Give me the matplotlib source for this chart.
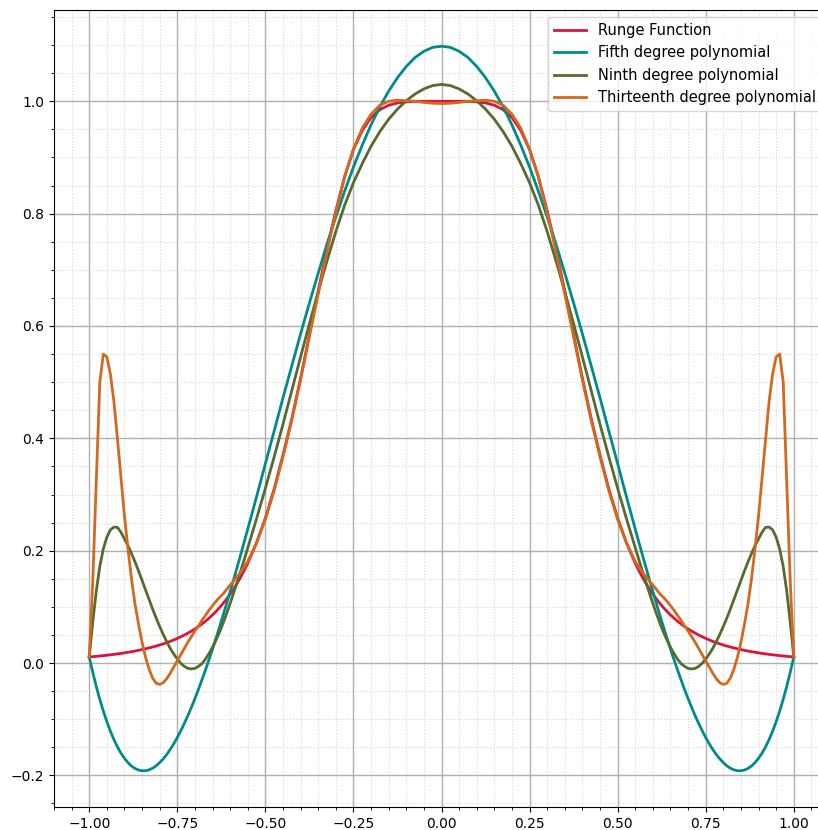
import numpy as np
import matplotlib
matplotlib.use("Agg")
import matplotlib.pyplot as plt
from matplotlib.ticker import MultipleLocator

# Sample positions on the right half of [-1, 1]; every curve is even, so the
# left half reuses the same values mirrored about x = 0.
x_half = [0.0, 0.025, 0.05, 0.075, 0.1, 0.125, 0.15, 0.175, 0.2, 0.225,
          0.25, 0.275, 0.3, 0.325, 0.35, 0.375, 0.4, 0.425, 0.45, 0.475,
          0.5, 0.525,
          0.55, 0.56, 0.57, 0.58, 0.59, 0.60, 0.61, 0.62, 0.63, 0.64,
          0.65, 0.66, 0.67, 0.68, 0.69, 0.70, 0.71, 0.72, 0.73, 0.74,
          0.75, 0.76, 0.77, 0.78, 0.79, 0.80, 0.81, 0.82, 0.83, 0.84,
          0.85, 0.86, 0.87, 0.88, 0.89, 0.90, 0.91, 0.92, 0.93, 0.94,
          0.95, 0.96, 0.97, 0.98, 0.99, 1.00]

runge_half = [1.000, 1.000, 1.000, 1.000, 0.999, 0.997, 0.993, 0.985, 0.971, 0.948,
              0.914, 0.866, 0.805, 0.737, 0.662, 0.585, 0.507, 0.435, 0.370, 0.310,
              0.258, 0.214,
              0.1776, 0.1649, 0.1530, 0.1421, 0.1320, 0.1226, 0.1140, 0.1061, 0.0987, 0.0919,
              0.0857, 0.0799, 0.0745, 0.0696, 0.0650, 0.0607, 0.0568, 0.0532, 0.0498, 0.0467,
              0.0438, 0.0411, 0.0386, 0.0363, 0.0341, 0.0321, 0.0302, 0.0285, 0.0269, 0.0253,
              0.0239, 0.0226, 0.0213, 0.0202, 0.0191, 0.0181, 0.0171, 0.0162, 0.0154, 0.0146,
              0.0139, 0.0132, 0.0125, 0.0119, 0.0113, 0.0108]

fifth_half = [1.098, 1.096, 1.089, 1.078, 1.062, 1.042, 1.018, 0.990, 0.958, 0.922,
              0.883, 0.840, 0.794, 0.746, 0.694, 0.641, 0.586, 0.529, 0.472, 0.413,
              0.355, 0.296,
              0.2383, 0.2155, 0.1930, 0.1706, 0.1487, 0.1270, 0.1057, 0.0848, 0.0643, 0.0443,
              0.0248, 0.0059, -0.0124, -0.0300, -0.0471, -0.0634, -0.0789, -0.0937, -0.1075, -0.1205,
              -0.1326, -0.1437, -0.1537, -0.1628, -0.1706, -0.1773, -0.1829, -0.1872, -0.1901, -0.1917,
              -0.1918, -0.1905, -0.1877, -0.1834, -0.1773, -0.1696, -0.1603, -0.1492, -0.1361, -0.1213,
              -0.1044, -0.0855, -0.0647, -0.0416, -0.0164, 0.0108]

ninth_half = [1.030, 1.028, 1.022, 1.013, 1.001, 0.986, 0.968, 0.946, 0.920, 0.889,
              0.855, 0.815, 0.768, 0.716, 0.661, 0.604, 0.545, 0.485, 0.425, 0.367,
              0.311, 0.257,
              0.205, 0.184, 0.164, 0.144, 0.125, 0.106, 0.088, 0.071, 0.055, 0.041,
              0.028, 0.017, 0.007, -0.001, -0.006, -0.0095, -0.0105, -0.0095, -0.006, -0.0005,
              0.007, 0.016, 0.026, 0.038, 0.051, 0.065, 0.080, 0.096, 0.113, 0.130,
              0.147, 0.164, 0.180, 0.195, 0.209, 0.221, 0.233, 0.2415, 0.242, 0.237,
              0.224, 0.203, 0.172, 0.128, 0.073, 0.0108]

thirteenth_half = [0.996, 0.9965, 0.998, 1.000, 1.001, 1.002, 1.000, 0.993, 0.977, 0.952,
                   0.915, 0.865, 0.802, 0.732, 0.657, 0.581, 0.504, 0.432, 0.367, 0.307,
                   0.256, 0.214,
                   0.181, 0.171, 0.162, 0.154, 0.146, 0.139, 0.131, 0.123, 0.117, 0.110,
                   0.102, 0.094, 0.085, 0.076, 0.066, 0.057, 0.047, 0.037, 0.026, 0.015,
                   0.004, -0.007, -0.018, -0.028, -0.035, -0.038, -0.036, -0.027, -0.011, 0.010,
                   0.037, 0.069, 0.105, 0.150, 0.203, 0.262, 0.330, 0.400, 0.466, 0.515,
                   0.545, 0.550, 0.500, 0.320, 0.145, 0.0108]

labels = ["Runge Function", "Fifth degree polynomial",
          "Ninth degree polynomial", "Thirteenth degree polynomial"]
colors = ["crimson", "darkcyan", "darkolivegreen", "chocolate"]


def full(half, sign=1.0):
    h = np.asarray(half, dtype=float)
    return np.concatenate([sign * h[:0:-1], h])


x = full(x_half, -1.0)
series = [full(runge_half), full(fifth_half), full(ninth_half), full(thirteenth_half)]

W, H = 818, 830
fig = plt.figure(figsize=(W / 100, H / 100), dpi=100)
ax = fig.add_axes([54 / W, (H - 807) / H, (829 - 54) / W, (807 - 10) / H])

for y, lab, c in zip(series, labels, colors):
    ax.plot(x, y, color=c, lw=2, label=lab)

ax.xaxis.set_major_locator(MultipleLocator(0.25))
ax.xaxis.set_minor_locator(MultipleLocator(0.05))
ax.yaxis.set_major_locator(MultipleLocator(0.2))
ax.yaxis.set_minor_locator(MultipleLocator(0.05))
ax.grid(which="major", color="#b0b0b0", lw=1.0)
ax.grid(which="minor", color="#d8d8d8", lw=0.8, ls=":")
ax.set_axisbelow(True)
ax.margins(x=0.05, y=0.05)

ax.legend(loc="upper right", fontsize=10.5, handlelength=2.2)

fig.savefig("out.png", dpi=100)
